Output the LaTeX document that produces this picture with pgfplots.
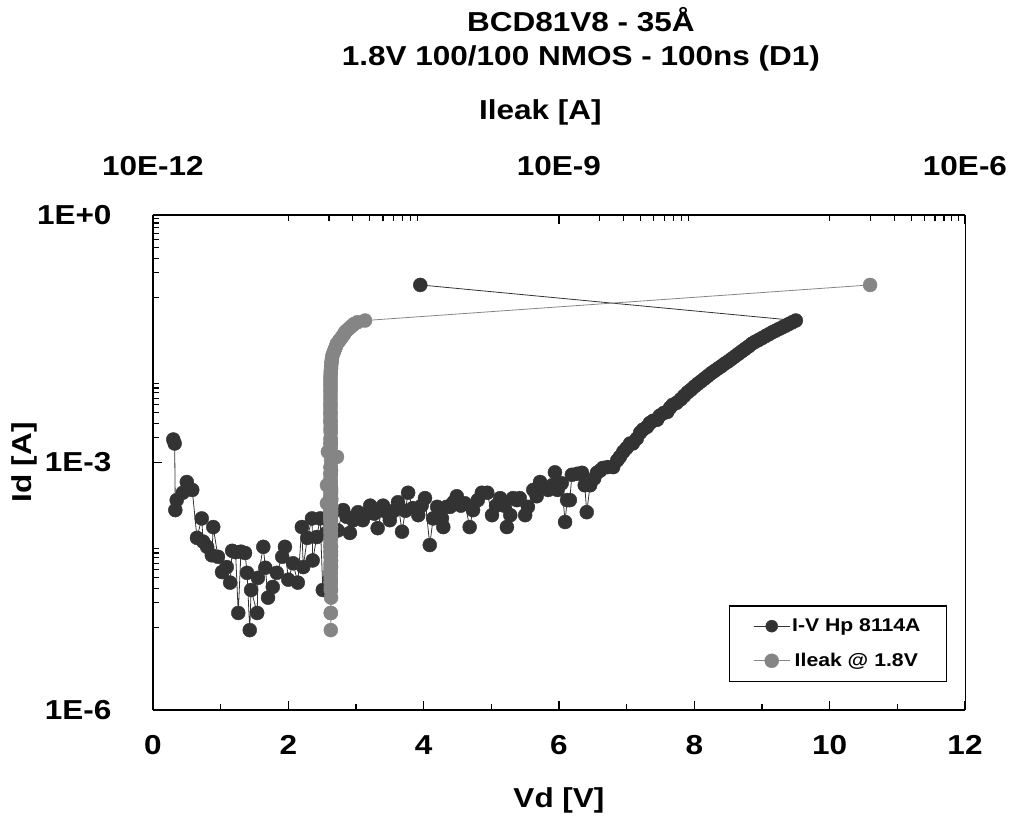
\documentclass[border=0pt]{standalone}
\usepackage{fontspec}
\setmainfont{Liberation Sans}[FakeStretch=1.15]
\usepackage{pgfplots}
\usepackage{pgfplotstable}
\pgfplotsset{compat=1.18}
\definecolor{darkser}{HTML}{333333}
\definecolor{grayser}{HTML}{858585}

\pgfplotstableread{
vd id ileak
0.30 1.9e-3 2.06e-10
0.32 1.7e-3 2.05e-10
0.33 2.65e-4 2.06e-10
0.35 3.5e-4 2.07e-10
0.44 4.3e-4 2.06e-10
0.50 5.8e-4 2.05e-10
0.58 4.65e-4 2.06e-10
0.65 1.22e-4 2.07e-10
0.72 2.1e-4 2.06e-10
0.74 1.1e-4 2.05e-10
0.80 9.5e-5 2.06e-10
0.87 7.5e-5 2.07e-10
0.89 1.65e-4 2.06e-10
0.96 7.2e-5 2.05e-10
1.02 4.7e-5 2.06e-10
1.09 5.4e-5 2.07e-10
1.14 3.5e-5 2.06e-10
1.17 8.5e-5 2.05e-10
1.22 8.2e-5 2.06e-10
1.26 1.5e-5 2.06e-10
1.30 8.3e-5 2.07e-10
1.36 8.0e-5 2.06e-10
1.39 4.6e-5 2.05e-10
1.43 9.3e-6 2.06e-10
1.45 2.85e-5 2.07e-10
1.54 1.5e-5 2.06e-10
1.55 4.0e-5 2.06e-10
1.63 9.5e-5 2.05e-10
1.66 5.3e-5 2.06e-10
1.70 2.3e-5 2.07e-10
1.77 3.1e-5 2.06e-10
1.83 4.6e-5 2.05e-10
1.91 7.2e-5 2.06e-10
1.95 9.5e-5 2.07e-10
2.00 3.8e-5 2.06e-10
2.07 6.0e-5 2.05e-10
2.14 3.5e-5 2.06e-10
2.20 1.65e-4 2.07e-10
2.22 5.4e-5 2.06e-10
2.28 1.22e-4 2.05e-10
2.35 2.1e-4 2.06e-10
2.36 6.5e-5 2.07e-10
2.42 1.25e-4 2.06e-10
2.47 2.1e-4 2.05e-10
2.51 2.85e-5 2.06e-10
2.56 1.4e-4 2.07e-10
2.59 2.0e-4 2.06e-10
2.66 2.5e-4 2.05e-10
2.73 1.5e-4 2.06e-10
2.81 2.65e-4 2.07e-10
2.86 2.2e-4 2.06e-10
2.91 1.4e-4 2.05e-10
2.96 2.0e-4 2.06e-10
3.03 2.5e-4 2.07e-10
3.10 2.0e-4 2.06e-10
3.16 2.4e-4 2.05e-10
3.21 3.0e-4 2.06e-10
3.27 2.4e-4 2.07e-10
3.32 1.6e-4 2.06e-10
3.40 3.0e-4 2.05e-10
3.45 2.5e-4 2.06e-10
3.50 2.0e-4 2.07e-10
3.56 2.6e-4 2.06e-10
3.62 3.3e-4 2.05e-10
3.68 1.45e-4 2.06e-10
3.73 2.6e-4 2.07e-10
3.77 4.3e-4 2.06e-10
3.84 2.8e-4 2.05e-10
3.92 2.3e-4 2.06e-10
3.97 3.0e-4 2.07e-10
4.02 3.7e-4 2.06e-10
4.09 1.0e-4 2.05e-10
4.14 2.1e-4 2.06e-10
4.20 2.9e-4 2.07e-10
4.27 2.1e-4 2.06e-10
4.29 1.65e-4 2.05e-10
4.34 2.9e-4 2.06e-10
4.39 2.9e-4 2.07e-10
4.44 3.3e-4 2.06e-10
4.49 3.9e-4 2.05e-10
4.55 3.0e-4 2.06e-10
4.61 3.2e-4 1.93e-10
4.68 1.65e-4 2.06e-10
4.73 2.65e-4 2.05e-10
4.80 3.5e-4 2.06e-10
4.86 4.3e-4 2.07e-10
4.94 4.3e-4 2.06e-10
5.01 2.3e-4 2.05e-10
5.07 3.0e-4 2.06e-10
5.13 3.7e-4 2.07e-10
5.19 3.0e-4 2.06e-10
5.23 1.65e-4 2.05e-10
5.28 2.3e-4 2.06e-10
5.32 3.7e-4 2.07e-10
5.38 3.5e-4 2.06e-10
5.42 3.7e-4 2.05e-10
5.50 2.3e-4 2.06e-10
5.54 2.9e-4 2.07e-10
5.62 4.65e-4 2.06e-10
5.67 3.9e-4 2.05e-10
5.72 5.8e-4 2.06e-10
5.78 4.9e-4 2.07e-10
5.84 4.65e-4 2.06e-10
5.90 5.3e-4 2.05e-10
5.94 7.6e-4 2.06e-10
5.98 4.65e-4 2.07e-10
6.04 5.6e-4 2.06e-10
6.09 1.9e-4 2.05e-10
6.12 3.5e-4 2.06e-10
6.16 3.5e-4 2.07e-10
6.19 7.1e-4 2.06e-10
6.27 7.3e-4 2.05e-10
6.34 7.5e-4 2.06e-10
6.38 5.3e-4 1.93e-10
6.41 2.5e-4 2.06e-10
6.46 5.3e-4 2.06e-10
6.52 6.4e-4 2.05e-10
6.56 7.5e-4 2.06e-10
6.61 8.0e-4 2.07e-10
6.65 8.6e-4 2.06e-10
6.72 8.8e-4 2.05e-10
6.80 8.8e-4 2.06e-10
6.86 1.06e-3 2.07e-10
6.90 1.17e-3 2.29e-10
6.95 1.35e-3 1.96e-10
7.00 1.5e-3 2.06e-10
7.05 1.7e-3 2.05e-10
7.09 1.7e-3 2.06e-10
7.15 1.95e-3 2.05e-10
7.20 2.3e-3 2.06e-10
7.24 2.5e-3 2.05e-10
7.30 2.7e-3 2.06e-10
7.34 3.0e-3 2.05e-10
7.39 3.2e-3 2.05e-10
7.45 3.3e-3 2.05e-10
7.49 3.7e-3 2.05e-10
7.55 4.0e-3 2.05e-10
7.60 4.1e-3 2.05e-10
7.64 4.6e-3 2.05e-10
7.68 5.0e-3 2.05e-10
7.74 5.3e-3 2.05e-10
7.80 5.85e-3 2.05e-10
7.85 6.43e-3 2.05e-10
7.90 7.08e-3 2.05e-10
7.95 7.62e-3 2.05e-10
8.00 8.31e-3 2.05e-10
8.05 8.97e-3 2.05e-10
8.10 9.64e-3 2.05e-10
8.15 1.04e-2 2.05e-10
8.20 1.12e-2 2.05e-10
8.25 1.21e-2 2.06e-10
8.30 1.29e-2 2.06e-10
8.35 1.38e-2 2.07e-10
8.40 1.47e-2 2.07e-10
8.45 1.58e-2 2.08e-10
8.50 1.68e-2 2.09e-10
8.55 1.80e-2 2.10e-10
8.60 1.93e-2 2.11e-10
8.65 2.07e-2 2.14e-10
8.70 2.22e-2 2.18e-10
8.75 2.38e-2 2.21e-10
8.80 2.55e-2 2.25e-10
8.85 2.75e-2 2.28e-10
8.90 2.91e-2 2.35e-10
8.95 3.06e-2 2.40e-10
9.00 3.22e-2 2.46e-10
9.05 3.40e-2 2.52e-10
9.10 3.58e-2 2.58e-10
9.15 3.78e-2 2.62e-10
9.20 3.96e-2 2.69e-10
9.25 4.15e-2 2.78e-10
9.30 4.35e-2 2.87e-10
9.35 4.56e-2 2.97e-10
9.40 4.79e-2 3.07e-10
9.45 5.02e-2 3.25e-10
9.50 5.26e-2 3.69e-10
3.95 0.142 1.99e-6
}\datatab

\tikzset{
  darkstyle/.style={color=darkser, line width=0.8bp, mark=*, mark size=7bp,
    mark options={fill=darkser, draw=darkser, line width=0.4bp}},
  graystyle/.style={color=grayser, line width=0.8bp, mark=*, mark size=7bp,
    mark options={fill=grayser, draw=grayser, line width=0.4bp}},
}

\begin{document}
\begin{tikzpicture}[font=\fontsize{27.5}{35}\selectfont\bfseries]
\useasboundingbox (-153bp,-119bp) rectangle (858bp,710bp);
\begin{axis}[
  at={(0,0)}, anchor=south west, width=812bp, height=495bp, scale only axis,
  ymode=log, ymin=1e-6, ymax=1,
  tick align=inside, major tick length=9bp, minor tick length=6bp,
  every tick/.style={black, line width=1.2bp},
  /pgf/number format/assume math mode=true,
  xmin=0, xmax=12,
  axis x line*=bottom, axis y line*=left,
  axis line style={-, line width=2bp},
  xtick={0,2,...,12}, minor xtick={1,3,...,11},
  ytick={1e-6,1e-3,1}, yticklabels={1E-6,1E-3,1E+0},
  minor ytick={1e-5,2e-5,3e-5,4e-5,5e-5,6e-5,7e-5,8e-5,9e-5,2e-3,3e-3,4e-3,5e-3,6e-3,7e-3,8e-3,9e-3,0.1,0.2,0.3,0.4,0.5,0.6,0.7,0.8,0.9},
  xticklabel style={yshift=-22bp},
  yticklabel style={xshift=-38bp},
  xlabel={Vd [V]}, xlabel style={at={(axis description cs:0.5,-0.182)}, anchor=center},
  ylabel={Id [A]}, ylabel style={at={(axis description cs:-0.158,0.5)}, anchor=center},
  title={BCD81V8 - 35Å\\1.8V 100/100 NMOS - 100ns (D1)},
  title style={align=center, at={(axis description cs:0.527,1.343)}, anchor=center},
]
\addplot[darkstyle] table[x=vd, y=id]{\datatab};
\end{axis}
\begin{axis}[
  at={(0,0)}, anchor=south west, width=812bp, height=495bp, scale only axis,
  ymode=log, ymin=1e-6, ymax=1,
  tick align=inside, major tick length=9bp, minor tick length=6bp,
  every tick/.style={black, line width=1.2bp},
  /pgf/number format/assume math mode=true,
  xmode=log, xmin=1e-11, xmax=1e-5,
  axis x line*=top, axis y line*=right,
  x axis line style={-, line width=2bp},
  y axis line style={-, line width=0.8bp},
  ymajorticks=false, yminorticks=false,
  xtick={1e-11,1e-8,1e-5}, xticklabels={10E-12,10E-9,10E-6},
  minor xtick={1e-10,2e-10,3e-10,4e-10,5e-10,6e-10,7e-10,8e-10,9e-10,2e-8,3e-8,4e-8,5e-8,6e-8,7e-8,8e-8,9e-8,1e-6,2e-6,3e-6,4e-6,5e-6,6e-6,7e-6,8e-6,9e-6},
  xticklabel style={yshift=36bp},
  xlabel={Ileak [A]}, xlabel style={at={(axis description cs:0.477,1.208)}, anchor=center},
  legend style={at={(axis description cs:0.978,0.057)}, anchor=south east,
    font=\fontsize{18.5}{21}\selectfont\bfseries, draw=black, line width=1.2bp,
    inner xsep=24bp, inner ysep=11bp, row sep=16bp},
  legend image code/.code={\draw[mark repeat=2,mark phase=2,#1] plot coordinates {(0bp,0bp) (18bp,0bp) (36bp,0bp)};},
]
\addlegendimage{darkstyle, mark size=6bp}
\addlegendentry{I-V Hp 8114A}
\addplot[graystyle] table[x=ileak, y=id]{\datatab};
\addlegendentry{Ileak @ 1.8V}
\end{axis}
\end{tikzpicture}
\end{document}
